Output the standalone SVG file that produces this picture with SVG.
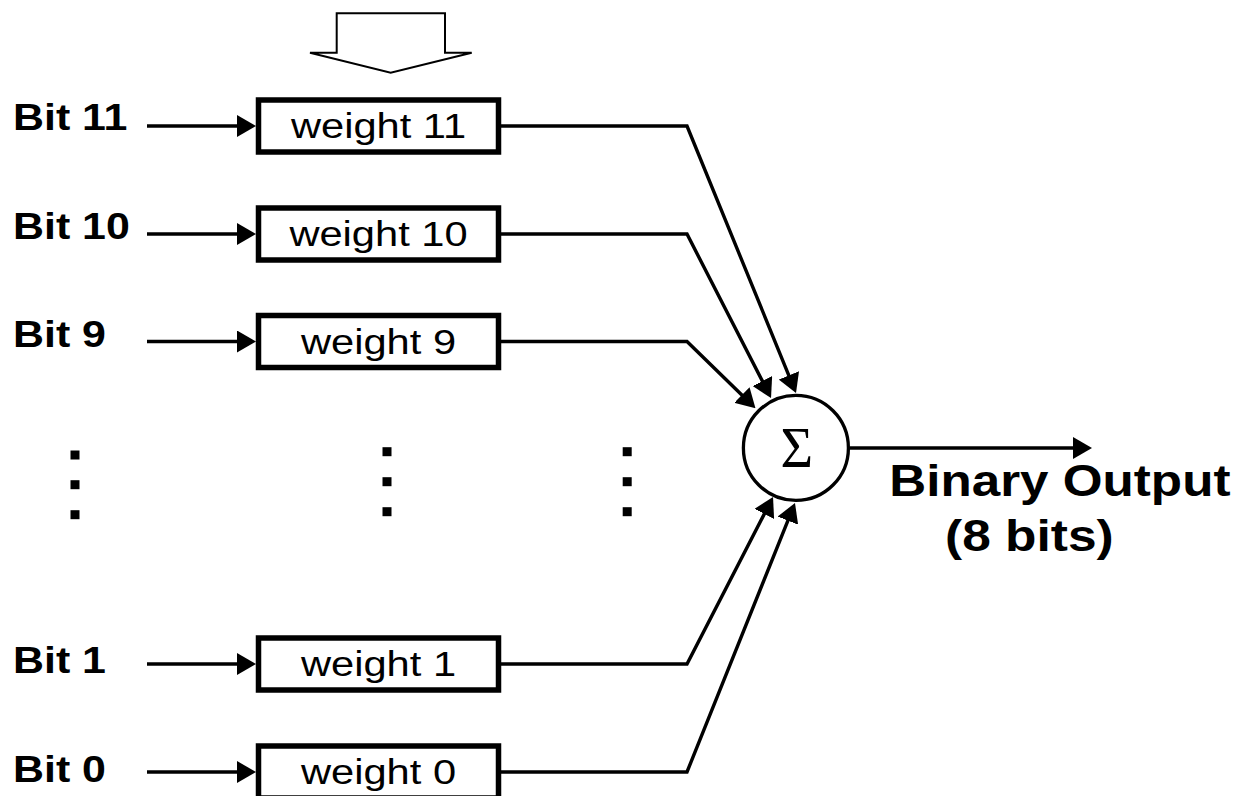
<svg xmlns="http://www.w3.org/2000/svg" width="1245" height="796" viewBox="0 0 1245 796">
<style>
.lbl{font-family:"Liberation Sans",Arial,sans-serif;font-weight:bold;font-size:37px;fill:#000}
.wt{font-family:"Liberation Sans",Arial,sans-serif;font-size:35px;fill:#000}
.out{font-family:"Liberation Sans",Arial,sans-serif;font-weight:bold;font-size:44px;fill:#000}
.box{fill:#fff;stroke:#000;stroke-width:5.5}
.wire{fill:none;stroke:#000;stroke-width:3.4}
.dot{fill:#000}
</style>
<defs>
<marker id="ah" markerUnits="userSpaceOnUse" markerWidth="19" markerHeight="22" refX="15" refY="11" orient="auto" viewBox="0 0 19 22">
<path d="M0,0 L19,11 L0,22 z" fill="#000"/>
</marker>
</defs>
<rect width="1245" height="796" fill="#fff"/>

<g id="load-arrow">
<polygon points="336.7,13.3 445,13.3 445,52.7 471.7,52.7 390.7,72.7 310,52.7 336.7,52.7" fill="#fff" stroke="#000" stroke-width="2"/>
</g>

<g id="connectors">
<line class="wire" x1="147" y1="126" x2="252" y2="126" marker-end="url(#ah)"/>
<line class="wire" x1="147" y1="234" x2="252" y2="234" marker-end="url(#ah)"/>
<line class="wire" x1="147" y1="341.5" x2="252" y2="341.5" marker-end="url(#ah)"/>
<line class="wire" x1="147" y1="664" x2="252" y2="664" marker-end="url(#ah)"/>
<line class="wire" x1="147" y1="772" x2="252" y2="772" marker-end="url(#ah)"/>
<polyline class="wire" points="500,126 687,126 794.5,389.3" marker-end="url(#ah)"/>
<polyline class="wire" points="500,234 687,234 769.2,394.4" marker-end="url(#ah)"/>
<polyline class="wire" points="500,341.5 687,341.5 752.6,405.5" marker-end="url(#ah)"/>
<polyline class="wire" points="500,664 687,664 771.2,500.6" marker-end="url(#ah)"/>
<polyline class="wire" points="500,772 687,772 793.5,506.7" marker-end="url(#ah)"/>
<line class="wire" x1="850" y1="448" x2="1088" y2="448" marker-end="url(#ah)"/>
</g>

<g id="bit11"><text class="lbl" transform="translate(13,130) scale(1.16,1)">Bit 11</text></g>
<g id="bit10"><text class="lbl" transform="translate(13,239) scale(1.16,1)">Bit 10</text></g>
<g id="bit9"><text class="lbl" transform="translate(13,347) scale(1.16,1)">Bit 9</text></g>
<g id="bit1"><text class="lbl" transform="translate(13,672.7) scale(1.16,1)">Bit 1</text></g>
<g id="bit0"><text class="lbl" transform="translate(13,781.5) scale(1.16,1)">Bit 0</text></g>

<g id="weight11"><rect class="box" x="258.5" y="100" width="240" height="52"/><text class="wt" text-anchor="middle" transform="translate(378.5,138.3) scale(1.19,1)">weight 11</text></g>
<g id="weight10"><rect class="box" x="258.5" y="208" width="240" height="52"/><text class="wt" text-anchor="middle" transform="translate(378.5,246.3) scale(1.19,1)">weight 10</text></g>
<g id="weight9"><rect class="box" x="258.5" y="315.5" width="240" height="52"/><text class="wt" text-anchor="middle" transform="translate(378.5,353.8) scale(1.19,1)">weight 9</text></g>
<g id="weight1"><rect class="box" x="258.5" y="638" width="240" height="52"/><text class="wt" text-anchor="middle" transform="translate(378.5,676.3) scale(1.19,1)">weight 1</text></g>
<g id="weight0"><rect class="box" x="258.5" y="746" width="240" height="52"/><text class="wt" text-anchor="middle" transform="translate(378.5,784.3) scale(1.19,1)">weight 0</text></g>

<g id="ellipsis">
<rect class="dot" x="70.5" y="450.5" width="9" height="9"/>
<rect class="dot" x="70.5" y="480.2" width="9" height="9"/>
<rect class="dot" x="70.5" y="510.2" width="9" height="9"/>
<rect class="dot" x="382.5" y="447.2" width="9" height="9"/>
<rect class="dot" x="382.5" y="477.2" width="9" height="9"/>
<rect class="dot" x="382.5" y="507.2" width="9" height="9"/>
<rect class="dot" x="622.7" y="447.2" width="9" height="9"/>
<rect class="dot" x="622.7" y="477.2" width="9" height="9"/>
<rect class="dot" x="622.7" y="507.2" width="9" height="9"/>
</g>

<g id="sum">
<circle cx="795.9" cy="447.9" r="52.5" fill="#fff" stroke="#000" stroke-width="3.3"/>
<text x="796.7" y="467" text-anchor="middle" font-family="'Liberation Serif','Times New Roman',serif" font-size="56">Σ</text>
</g>

<g id="output-label">
<text class="out" transform="translate(889.3,496) scale(1.163,1)">Binary Output</text>
<text class="out" transform="translate(945,551) scale(1.17,1)">(8 bits)</text>
</g>
</svg>
